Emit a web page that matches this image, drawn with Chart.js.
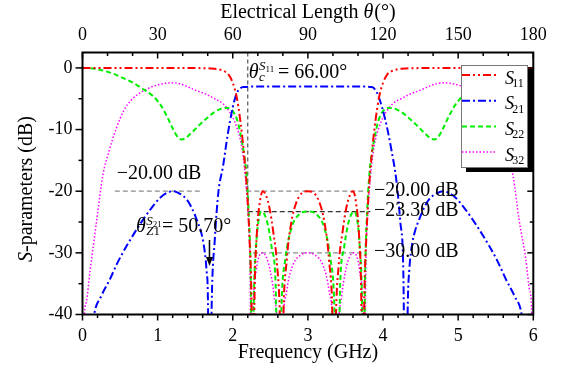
<!DOCTYPE html>
<html>
<head>
<meta charset="utf-8">
<script src="https://cdn.jsdelivr.net/npm/chart.js@4.4.1/dist/chart.umd.min.js"></script>
<style>
  html, body { margin: 0; padding: 0; background: #fff; }
  canvas { display: block; }
</style>
</head>
<body>
<canvas id="chart" width="562" height="368"></canvas>
<script>
// ejes
const freqRange = [0, 6];
const thetaRange = [0, 180];
const dbRange = [-40, 2.5];
const thetaTicks = [0, 30, 60, 90, 120, 150, 180];
const dbTicks = [0, -10, -20, -30, -40];

// curvas [GHz, dB]
const s11 = [[0,0],[0.5,0],[1.0,-0.01],[1.5,-0.03],[1.7,-0.08],[1.8,-0.2],[1.88,-0.5],[1.94,-1.0],[2.0,-2.4],[2.05,-4.6],
  [2.1,-8.5],[2.15,-14],[2.19,-20],[2.22,-27],[2.25,-38],[2.27,-60],[2.29,-37],[2.32,-27],[2.36,-21.8],[2.40,-20.0],
  [2.44,-20.6],[2.49,-22.8],[2.54,-26.7],[2.59,-32],[2.63,-42],[2.65,-60],[2.67,-42],[2.72,-31],[2.78,-25],[2.85,-21.7],
  [2.92,-20.3],[3.0,-20.0],[3.08,-20.3],[3.15,-21.7],[3.22,-25],[3.28,-31],[3.33,-42],[3.35,-60],[3.37,-42],[3.41,-32],
  [3.46,-26.7],[3.51,-22.8],[3.56,-20.6],[3.60,-20.0],[3.64,-21.8],[3.68,-27],[3.71,-37],[3.73,-60],[3.75,-38],[3.78,-27],
  [3.81,-20],[3.85,-14],[3.9,-8.5],[3.95,-4.6],[4.0,-2.4],[4.06,-1.0],[4.12,-0.5],[4.2,-0.2],[4.3,-0.08],[4.5,-0.03],
  [5.0,-0.01],[5.5,0],[6.0,0]];

const s21 = [[0,-70],[0.08,-48],[0.155,-40],[0.25,-37],[0.364,-34.3],[0.47,-31.5],[0.586,-28.9],[0.7,-26.6],[0.807,-24.6],
  [0.92,-22.7],[1.03,-21.1],[1.12,-20.3],[1.2,-20.0],[1.28,-20.3],[1.385,-21.3],[1.45,-22.6],[1.52,-24.6],[1.57,-26.3],
  [1.61,-28.4],[1.65,-32.7],[1.67,-38],[1.69,-65],[1.72,-38],[1.76,-28],[1.81,-20],[1.87,-16],[1.93,-11],[2.0,-6.4],
  [2.05,-4.2],[2.1,-3.3],[2.15,-3.1],[2.3,-3.02],[3.0,-3.0],[3.7,-3.02],[3.85,-3.1],[3.9,-3.6],[3.94,-4.6],[4.03,-8.4],
  [4.11,-13.2],[4.18,-18.5],[4.23,-25],[4.27,-33],[4.30,-65],[4.33,-38],[4.35,-32.7],[4.39,-28.4],[4.43,-26.3],[4.48,-24.6],
  [4.55,-22.6],[4.615,-21.3],[4.72,-20.3],[4.8,-20.0],[4.88,-20.3],[4.97,-21.1],[5.08,-22.7],[5.193,-24.6],[5.3,-26.6],
  [5.414,-28.9],[5.53,-31.5],[5.636,-34.3],[5.75,-37],[5.845,-40],[5.92,-48],[6.0,-70]];

const s22 = [[0,0],[0.1,-0.05],[0.23,-0.3],[0.4,-0.9],[0.55,-1.7],[0.67,-2.4],[0.8,-3.4],[0.94,-4.6],[1.05,-6.2],[1.13,-8.0],
  [1.2,-9.8],[1.26,-11.1],[1.32,-11.6],[1.38,-11.3],[1.47,-10.3],[1.56,-9.2],[1.65,-8.2],[1.75,-7.2],[1.85,-6.6],[1.93,-6.5],
  [2.0,-7.0],[2.06,-8.5],[2.1,-10.5],[2.15,-14],[2.18,-17],[2.21,-23],[2.24,-35],[2.26,-60],[2.28,-38],[2.31,-29],
  [2.34,-25],[2.38,-23.3],[2.42,-23.7],[2.47,-25.6],[2.52,-29.3],[2.57,-35],[2.61,-60],[2.65,-38],[2.70,-31],[2.78,-26],
  [2.88,-23.8],[3.0,-23.3],[3.12,-23.8],[3.22,-26],[3.30,-31],[3.35,-38],[3.39,-60],[3.43,-35],[3.48,-29.3],[3.53,-25.6],
  [3.58,-23.7],[3.62,-23.3],[3.66,-25],[3.69,-29],[3.72,-38],[3.74,-60],[3.76,-35],[3.79,-23],[3.82,-17],[3.85,-14],
  [3.9,-10.5],[3.94,-8.5],[4.0,-7.0],[4.07,-6.5],[4.15,-6.6],[4.25,-7.2],[4.35,-8.2],[4.44,-9.2],[4.53,-10.3],[4.62,-11.3],
  [4.68,-11.6],[4.74,-11.1],[4.8,-9.8],[4.87,-8.0],[4.95,-6.2],[5.06,-4.6],[5.2,-3.4],[5.33,-2.4],[5.45,-1.7],[5.6,-0.9],
  [5.77,-0.3],[5.9,-0.05],[6.0,0]];

const s32 = [[0,-70],[0.02,-42],[0.05,-38],[0.1,-33],[0.19,-24.6],[0.27,-17.5],[0.36,-13.2],[0.45,-9.8],[0.55,-6.9],
  [0.65,-5.2],[0.76,-4.1],[0.88,-3.3],[0.99,-2.8],[1.1,-2.5],[1.2,-2.4],[1.3,-2.6],[1.39,-3.0],[1.5,-3.6],[1.65,-4.3],
  [1.76,-5.0],[1.87,-5.8],[1.95,-7.0],[2.0,-8.0],[2.05,-9.5],[2.1,-11.6],[2.14,-14.5],[2.17,-18],[2.2,-23],[2.23,-33],
  [2.25,-60],[2.27,-40],[2.31,-33],[2.36,-30.3],[2.40,-30],[2.45,-30.8],[2.5,-33],[2.55,-37],[2.6,-45],[2.63,-70],
  [2.66,-45],[2.72,-36],[2.8,-32],[2.9,-30.4],[3.0,-30],[3.1,-30.4],[3.2,-32],[3.28,-36],[3.34,-45],[3.37,-70],
  [3.4,-45],[3.45,-37],[3.5,-33],[3.55,-30.8],[3.6,-30],[3.64,-30.3],[3.69,-33],[3.73,-40],[3.75,-60],[3.77,-33],
  [3.8,-23],[3.83,-18],[3.86,-14.5],[3.9,-11.6],[3.95,-9.5],[4.0,-8.0],[4.05,-7.0],[4.13,-5.8],[4.24,-5.0],[4.35,-4.3],
  [4.5,-3.6],[4.61,-3.0],[4.7,-2.6],[4.8,-2.4],[4.9,-2.5],[5.01,-2.8],[5.12,-3.3],[5.24,-4.1],[5.35,-5.2],[5.45,-6.9],
  [5.55,-9.8],[5.64,-13.2],[5.73,-17.5],[5.81,-24.6],[5.9,-31],[5.95,-36],[5.98,-40],[6.0,-70]];

const seriesNames = ['11', '21', '22', '32'];

// lineas de referencia [f1, f2, dB]
const refLines = [[0.43, 1.58, -20], [2.18, 3.78, -20], [2.2, 3.83, -23.3], [2.27, 3.73, -30]];
const refLabels = ['−20.00 dB', '−20.00 dB', '−23.30 dB', '−30.00 dB'];
const cutoffFreq = 2.2;
const zeroFreq = 1.69;

const SERIF = '"Liberation Serif", "Times New Roman", serif';
function fnt(size, italic) { return (italic ? 'italic ' : '') + size + 'px ' + SERIF; }
const toXY = arr => arr.map(p => ({ x: p[0], y: p[1] }));

function runs(ctx, x, y, parts) {
    parts.forEach(p => {
        ctx.font = fnt(p.size, p.italic);
        ctx.fillText(p.t, x, y + (p.dy || 0));
        x += ctx.measureText(p.t).width + (p.gap || 0);
    });
    return x;
}
function runsWidth(ctx, parts) {
    return parts.reduce((w, p) => { ctx.font = fnt(p.size, p.italic); return w + ctx.measureText(p.t).width + (p.gap || 0); }, 0);
}

const decorPlugin = {
    id: 'decor',
    beforeDatasetsDraw(chart) {
        const ctx = chart.ctx, xs = chart.scales.x, ys = chart.scales.y;
        ctx.save();
        ctx.lineWidth = 1.2;
        refLines.forEach((r, i) => {
            ctx.strokeStyle = i === 2 ? '#333' : '#8a8a8a';
            ctx.setLineDash([5, 3]);
            ctx.beginPath();
            ctx.moveTo(xs.getPixelForValue(r[0]), ys.getPixelForValue(r[2]));
            ctx.lineTo(xs.getPixelForValue(r[1]), ys.getPixelForValue(r[2]));
            ctx.stroke();
        });
        // theta_c
        ctx.strokeStyle = '#333';
        ctx.lineWidth = 1;
        ctx.setLineDash([4, 3]);
        ctx.beginPath();
        ctx.moveTo(xs.getPixelForValue(cutoffFreq), chart.chartArea.top);
        ctx.lineTo(xs.getPixelForValue(cutoffFreq), ys.getPixelForValue(-23.3));
        ctx.stroke();
        ctx.restore();
    },
    afterDraw(chart) {
        const ctx = chart.ctx, xs = chart.scales.x, x2 = chart.scales.x2, ys = chart.scales.y;
        const { left, right, top, bottom } = chart.chartArea;
        ctx.save();
        ctx.fillStyle = '#000';
        ctx.strokeStyle = '#000';
        ctx.textBaseline = 'alphabetic';
        ctx.textAlign = 'left';

        // marco y ticks
        ctx.lineWidth = 1.5;
        const seg = (a, b, c, d) => { ctx.beginPath(); ctx.moveTo(a, b); ctx.lineTo(c, d); ctx.stroke(); };
        for (let i = 0; i <= 30; i++) {
            const px = xs.getPixelForValue(i * 0.2);
            seg(px, bottom, px, bottom + (i % 5 === 0 ? 6 : 3.5));
        }
        for (let t = 0; t <= 180; t += 10) {
            const px = x2.getPixelForValue(t);
            seg(px, top, px, top + (t % 30 === 0 ? 6 : 3.5));
        }
        for (let d = -40; d <= 0; d += 5) {
            const py = ys.getPixelForValue(d);
            const major = d % 10 === 0;
            seg(left - (major ? 7 : 4), py, left, py);
            seg(right - (major ? 6 : 3.5), py, right, py);
        }
        ctx.lineWidth = 2;
        ctx.strokeRect(left, top, right - left, bottom - top);

        // titulos
        const midX = (left + right) / 2;
        const bottomTitle = [{ t: 'Frequency (GHz)', size: 20 }];
        runs(ctx, midX - runsWidth(ctx, bottomTitle) / 2, 358, bottomTitle);
        const topTitle = [{ t: 'Electrical Length ', size: 20 }, { t: 'θ', size: 20, italic: true, gap: 1 }, { t: '(°)', size: 20 }];
        runs(ctx, midX - runsWidth(ctx, topTitle) / 2, 18, topTitle);
        const yTitle = [{ t: 'S', size: 20, italic: true }, { t: '-parameters (dB)', size: 20 }];
        ctx.save();
        ctx.translate(25, 189);
        ctx.rotate(-Math.PI / 2);
        runs(ctx, -runsWidth(ctx, yTitle) / 2, 7, yTitle);
        ctx.restore();

        // etiquetas de referencia
        ctx.font = fnt(20);
        ctx.fillText(refLabels[0], xs.getPixelForValue(refLines[0][0]) + 2, ys.getPixelForValue(-20) - 12);
        for (let i = 1; i < refLines.length; i++) {
            ctx.fillText(refLabels[i], 374, ys.getPixelForValue(refLines[i][2]) + 4.5);
        }

        // theta_c^S11 = 66.00°
        let tx = xs.getPixelForValue(cutoffFreq) + 1;
        ctx.font = fnt(20, true);
        ctx.fillText('θ', tx, 78);
        tx += ctx.measureText('θ').width + 0.5;
        ctx.font = fnt(13, true);
        ctx.fillText('S', tx, 69.5);
        ctx.fillText('c', tx, 81);
        let sx = tx + ctx.measureText('S').width;
        ctx.font = fnt(9);
        ctx.fillText('11', sx, 72);
        ctx.font = fnt(20);
        ctx.fillText('= 66.00°', 278, 78);

        // theta_Z1^S21 = 50.70°
        tx = 136;
        ctx.font = fnt(20, true);
        ctx.fillText('θ', tx, 232);
        tx += ctx.measureText('θ').width + 0.5;
        ctx.font = fnt(13, true);
        ctx.fillText('S', tx, 224.5);
        ctx.fillText('Z', tx, 235);
        sx = tx + ctx.measureText('S').width;
        let zx = tx + ctx.measureText('Z').width;
        ctx.font = fnt(9);
        ctx.fillText('21', sx, 227);
        ctx.font = fnt(13);
        ctx.fillText('1', zx, 235);
        ctx.font = fnt(20);
        ctx.fillText('= 50.70°', 162, 232);

        // flecha
        const ax = xs.getPixelForValue(zeroFreq);
        ctx.lineWidth = 1.5;
        seg(ax, 240, ax, 260);
        ctx.beginPath();
        ctx.moveTo(ax - 3.5, 257);
        ctx.lineTo(ax + 3.5, 257);
        ctx.lineTo(ax, 266);
        ctx.closePath();
        ctx.fill();

        // leyenda
        const lx = 461, ly = 65, lw = 66, lh = 102;
        ctx.fillStyle = '#000';
        ctx.fillRect(lx + 5, ly + 4, lw + 1, lh + 1);
        ctx.fillStyle = '#fff';
        ctx.fillRect(lx, ly, lw, lh);
        ctx.strokeStyle = '#777';
        ctx.lineWidth = 1;
        ctx.strokeRect(lx + 0.5, ly + 0.5, lw, lh);
        chart.data.datasets.forEach((ds, i) => {
            const yy = 75 + i * 25.7;
            ctx.save();
            ctx.strokeStyle = ds.borderColor;
            ctx.lineWidth = ds.borderWidth;
            ctx.setLineDash(ds.borderDash);
            seg(462, yy, 496, yy);
            ctx.restore();
            ctx.fillStyle = '#000';
            ctx.font = fnt(18, true);
            ctx.fillText('S', 505, yy + 8.5);
            ctx.font = fnt(12);
            ctx.fillText(seriesNames[i], 505 + ctx.measureText('S').width + 0.5, yy + 12);
        });
        ctx.restore();
    }
};

const lineDs = (label, data, color, dash, width) => ({
    label, data: toXY(data), borderColor: color, borderDash: dash, borderWidth: width,
    pointRadius: 0, fill: false, cubicInterpolationMode: 'monotone', clip: 0
});

new Chart(document.getElementById('chart'), {
    type: 'line',
    data: {
        datasets: [
            lineDs('S11', s11, '#ff0000', [8, 3, 2, 3, 2, 3], 2),
            lineDs('S21', s21, '#0000ff', [8, 3, 2, 3], 2),
            lineDs('S22', s22, '#00ee00', [5, 3], 2),
            lineDs('S32', s32, '#ff00ff', [1.5, 2], 1.5)
        ]
    },
    options: {
        responsive: false,
        animation: false,
        devicePixelRatio: 1,
        layout: { padding: { left: 0, right: 28.7, top: 0, bottom: 0 } },
        plugins: { legend: { display: false }, tooltip: { enabled: false } },
        scales: {
            x: {
                type: 'linear', position: 'bottom', min: freqRange[0], max: freqRange[1],
                grid: { display: false, drawTicks: false }, border: { display: false },
                ticks: { stepSize: 1, padding: 11, color: '#000', font: { family: SERIF, size: 18 } },
                afterFit: s => { s.height = 53.5; }
            },
            x2: {
                type: 'linear', position: 'top', min: thetaRange[0], max: thetaRange[1],
                grid: { display: false, drawTicks: false }, border: { display: false },
                afterBuildTicks: s => { s.ticks = thetaTicks.map(v => ({ value: v })); },
                ticks: { padding: 6, color: '#000', font: { family: SERIF, size: 18 } },
                afterFit: s => { s.height = 52.5; }
            },
            y: {
                type: 'linear', min: dbRange[0], max: dbRange[1],
                grid: { display: false, drawTicks: false }, border: { display: false },
                afterBuildTicks: s => { s.ticks = dbTicks.map(v => ({ value: v })); },
                ticks: { padding: 10, color: '#000', font: { family: SERIF, size: 18 } },
                afterFit: s => { s.width = 82.5; }
            }
        }
    },
    plugins: [decorPlugin]
});
</script>
</body>
</html>
